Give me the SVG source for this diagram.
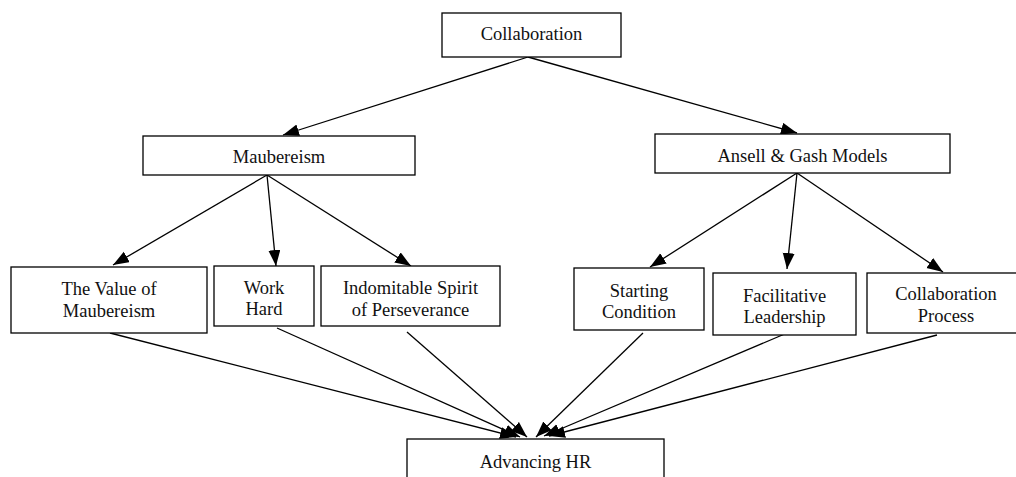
<svg xmlns="http://www.w3.org/2000/svg" width="1016" height="477" viewBox="0 0 1016 477">
<defs>
<marker id="ah" markerUnits="userSpaceOnUse" markerWidth="17" markerHeight="13" refX="16" refY="6" orient="auto">
<path d="M0,0 L16,6 L0,12 z" fill="#000"/>
</marker>
<style>
rect{fill:#fff;stroke:#000;stroke-width:1.3}
text{font-size:18.5px;fill:#111;text-anchor:middle}
.c line{stroke:#000;stroke-width:1.3;marker-end:url(#ah)}
</style>
</defs>
<rect x="0" y="0" width="1016" height="477" style="fill:#fff;stroke:none"/>
<g class="c" id="connectors">
<line x1="528" y1="57" x2="283" y2="135"/>
<line x1="528" y1="57" x2="797" y2="133"/>
<line x1="267" y1="175" x2="113" y2="265"/>
<line x1="267" y1="175" x2="276" y2="266"/>
<line x1="267" y1="175" x2="411" y2="266"/>
<line x1="797" y1="173" x2="650" y2="267"/>
<line x1="797" y1="173" x2="787" y2="269"/>
<line x1="797" y1="173" x2="943" y2="272"/>
<line x1="110" y1="333" x2="516" y2="437"/>
<line x1="277" y1="328" x2="520" y2="437"/>
<line x1="407" y1="332" x2="527" y2="437"/>
<line x1="643" y1="333" x2="536" y2="437"/>
<line x1="787" y1="333" x2="544" y2="436"/>
<line x1="937" y1="335" x2="549" y2="436"/>
</g>
<g font-family="Liberation Serif, Tinos, Times New Roman, DejaVu Serif, serif">
<g id="collaboration"><rect x="442" y="13" width="179" height="44"/><text x="531.5" y="40">Collaboration</text></g>
<g id="maubereism"><rect x="143" y="136" width="272" height="39"/><text x="279" y="163">Maubereism</text></g>
<g id="ansell"><rect x="655" y="134" width="295" height="39"/><text x="802.5" y="162">Ansell &amp; Gash Models</text></g>
<g id="value"><rect x="11" y="267" width="196" height="66"/><text x="109" y="295">The Value of</text><text x="109" y="317">Maubereism</text></g>
<g id="workhard"><rect x="214" y="266" width="100" height="60"/><text x="264" y="294">Work</text><text x="264" y="315">Hard</text></g>
<g id="indomitable"><rect x="321" y="266" width="179" height="60"/><text x="410.5" y="294">Indomitable Spirit</text><text x="410.5" y="316">of Perseverance</text></g>
<g id="starting"><rect x="574" y="268" width="130" height="62"/><text x="639" y="297">Starting</text><text x="639" y="318">Condition</text></g>
<g id="facilitative"><rect x="713" y="273" width="143" height="62"/><text x="784.5" y="302">Facilitative</text><text x="784.5" y="323">Leadership</text></g>
<g id="process"><rect x="867" y="273" width="158" height="60"/><text x="946" y="300">Collaboration</text><text x="946" y="322">Process</text></g>
<g id="advancing"><rect x="407" y="439" width="257" height="60"/><text x="535.5" y="468">Advancing HR</text></g>
</g>
</svg>
